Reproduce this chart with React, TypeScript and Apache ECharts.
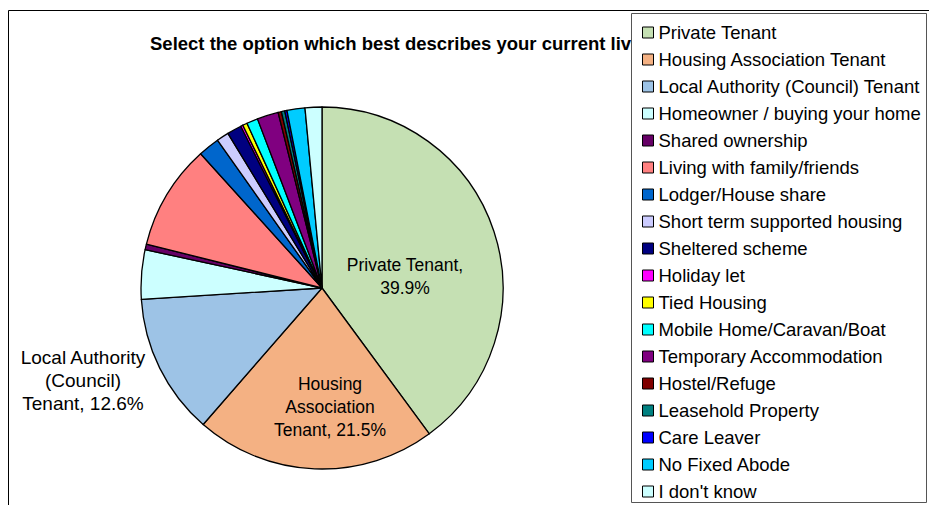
import React, { useEffect, useRef } from "react";
import * as echarts from "echarts";

const categories = [
  "Private Tenant",
  "Housing Association Tenant",
  "Local Authority (Council) Tenant",
  "Homeowner / buying your home",
  "Shared ownership",
  "Living with family/friends",
  "Lodger/House share",
  "Short term supported housing",
  "Sheltered scheme",
  "Holiday let",
  "Tied Housing",
  "Mobile Home/Caravan/Boat",
  "Temporary Accommodation",
  "Hostel/Refuge",
  "Leasehold Property",
  "Care Leaver",
  "No Fixed Abode",
  "I don't know",
];

const values = [39.9, 21.5, 12.6, 4.4, 0.5, 9.4, 1.9, 1.1, 1.3, 0.2, 0.4, 1.0, 1.9, 0.3, 0.3, 0.2, 1.6, 1.5];

const colors = [
  "#c5e0b3", "#f4b183", "#9dc3e6", "#ccffff", "#660066", "#ff8080",
  "#0066cc", "#ccccff", "#000080", "#ff00ff", "#ffff00", "#00ffff",
  "#800080", "#800000", "#008080", "#0000ff", "#00ccff", "#ccffff",
];

// wrapped label names for the three labelled slices
const labelNames: Record<number, string> = {
  0: "Private Tenant,\n",
  1: "Housing\nAssociation\nTenant, ",
  2: "Local Authority\n(Council)\nTenant, ",
};

const labelSpots: Record<number, [number, number]> = {
  0: [405, 276],
  1: [330, 407],
  2: [83, 380],
};

const FONT = "'Liberation Sans', Arial, sans-serif";

export default function App() {
  const ref = useRef<HTMLDivElement>(null);
  useEffect(() => {
    if (!ref.current) return;
    const chart = echarts.init(ref.current, undefined, { renderer: "svg" });
    chart.setOption({
      animation: false,
      backgroundColor: "#ffffff",
      title: {
        text: "Select the option which best describes your current living situation",
        left: 150,
        top: 34,
        z: 1,
        padding: 0,
        textStyle: {
          fontFamily: FONT,
          fontSize: 18.5,
          fontWeight: "bold",
          color: "#000",
          width: 490,
          overflow: "truncate",
          ellipsis: "",
        },
      },
      graphic: [
        {
          type: "rect",
          z: 0,
          shape: { x: 8.5, y: 10.5, width: 1000, height: 600 },
          style: { fill: "none", stroke: "#000", lineWidth: 1 },
        },
        {
          type: "rect",
          z: 3,
          shape: { x: 631.5, y: 13.5, width: 295, height: 489 },
          style: { fill: "#fff", stroke: "#555", lineWidth: 1 },
        },
      ],
      legend: {
        orient: "vertical",
        left: 642,
        top: 23,
        padding: 0,
        itemGap: 8,
        itemWidth: 11,
        itemHeight: 11,
        icon: "rect",
        z: 5,
        selectedMode: false,
        itemStyle: { borderColor: "#000", borderWidth: 1 },
        textStyle: { fontFamily: FONT, fontSize: 18.5, lineHeight: 18, color: "#000" },
        data: categories,
      },
      series: [
        {
          type: "pie",
          center: [322, 288],
          radius: 181,
          startAngle: 90,
          clockwise: true,
          percentPrecision: 1,
          avoidLabelOverlap: false,
          itemStyle: { borderColor: "#000", borderWidth: 1.3 },
          label: { show: false },
          labelLine: { show: false },
          labelLayout: (p: any) => {
            const s = labelSpots[p.dataIndex];
            if (!s) return {};
            return { x: s[0], y: s[1], align: "center", verticalAlign: "middle" };
          },
          data: categories.map((name, i) => ({
            name,
            value: values[i],
            itemStyle: { color: colors[i] },
            label:
              labelNames[i] !== undefined
                ? {
                    show: true,
                    position: i === 2 ? "outside" : "inside",
                    formatter: (p: any) => `${labelNames[p.dataIndex]}${p.percent.toFixed(1)}%`,
                    fontFamily: FONT,
                    fontSize: i === 2 ? 19 : 17.5,
                    lineHeight: 23,
                    color: "#000",
                    align: "center",
                  }
                : { show: false },
            labelLine: { show: false },
          })),
        },
      ],
    });
    return () => chart.dispose();
  }, []);
  return (
    <div
      ref={ref}
      style={{ position: "absolute", left: 0, top: 0, width: 929, height: 505 }}
    />
  );
}
